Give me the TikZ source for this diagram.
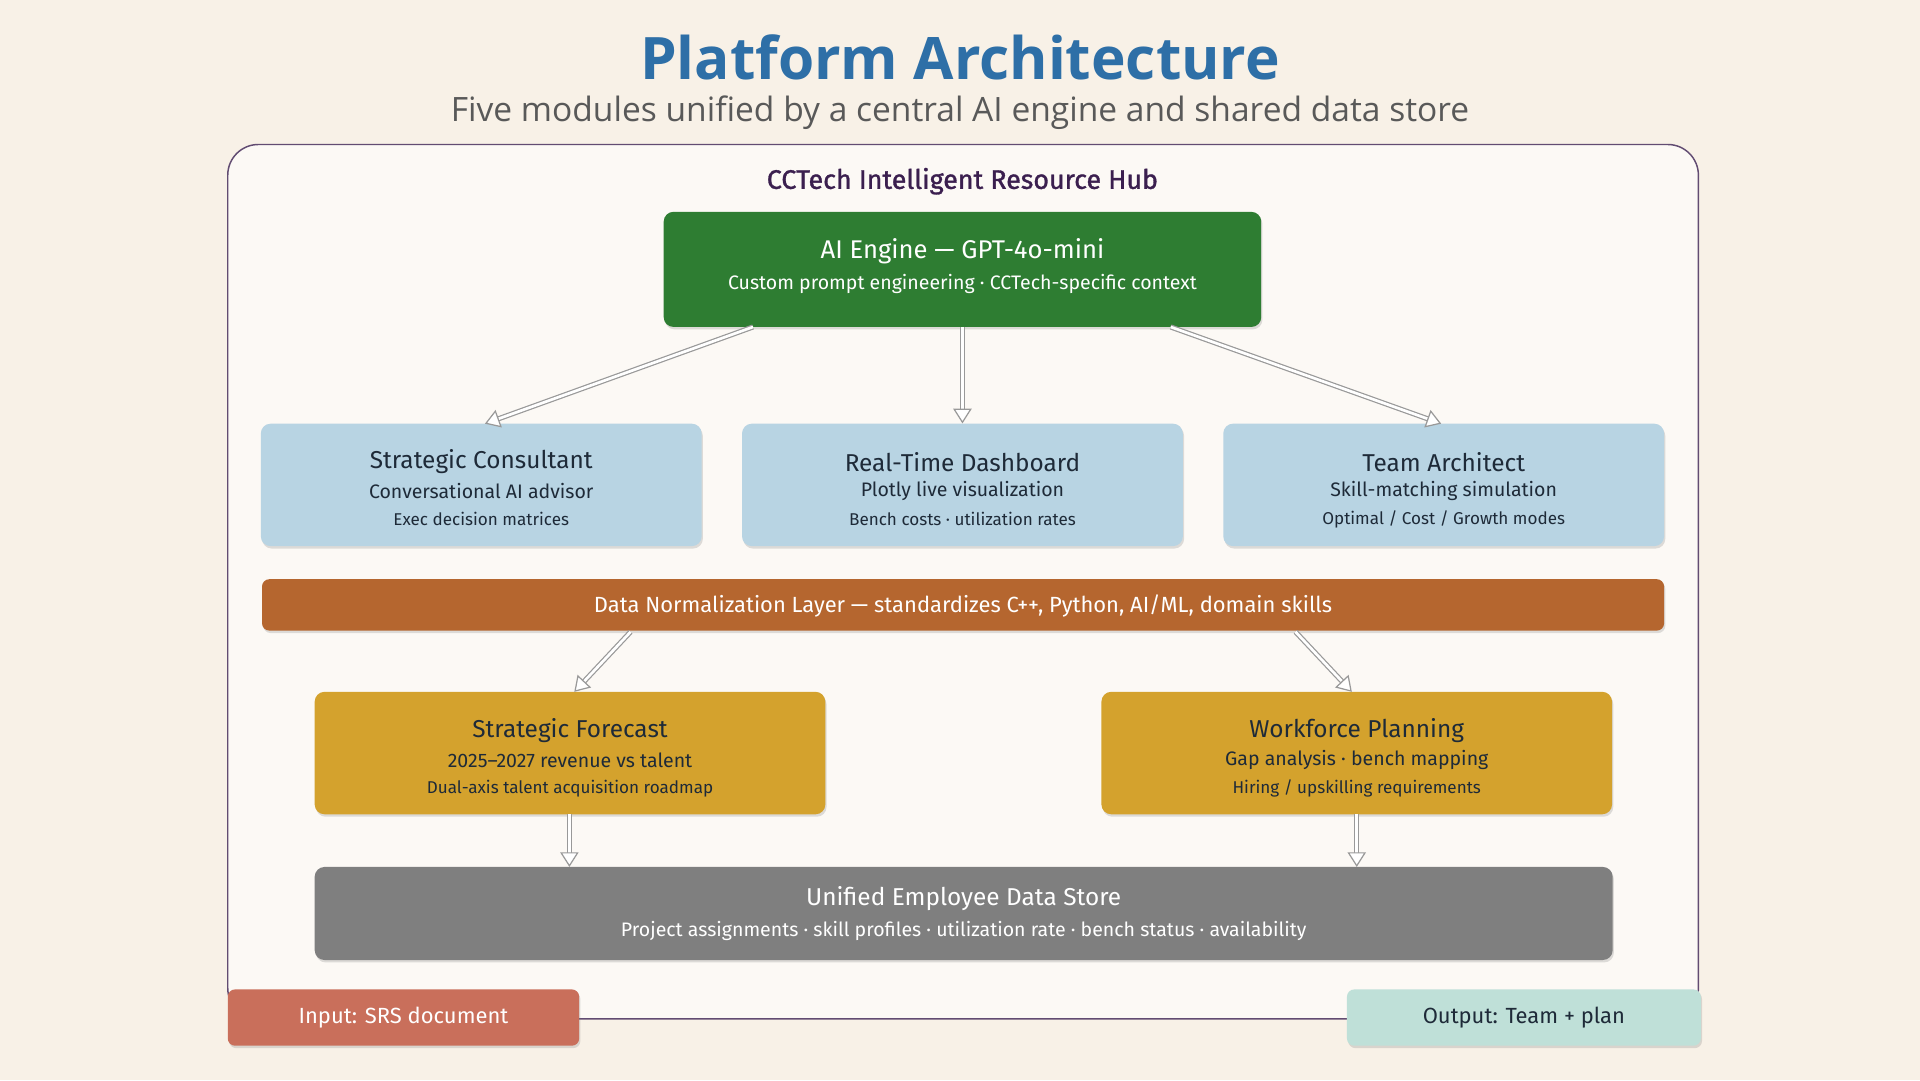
\documentclass[tikz,border=0pt]{standalone}
\usepackage{fontspec}
\setmainfont{Fira Sans}
\newfontfamily\titlefont{Open Sans}
\usetikzlibrary{arrows.meta,shadows}
\definecolor{bg}{HTML}{F8F1E7}
\definecolor{ttl}{HTML}{2E6FA7}
\definecolor{hub}{HTML}{3B1F4F}
\definecolor{grn}{HTML}{2E7D32}
\definecolor{blu}{HTML}{B8D4E3}
\definecolor{org}{HTML}{B5662F}
\definecolor{yel}{HTML}{D4A22D}
\definecolor{gry}{HTML}{7F7F7F}
\definecolor{inp}{HTML}{C96F5B}
\definecolor{outp}{HTML}{BFE0D8}
\definecolor{dk}{HTML}{1E2A38}
\begin{document}
\begin{tikzpicture}[x=1bp,y=-1bp,
  box/.style={rounded corners=8bp,drop shadow={shadow xshift=1bp,shadow yshift=-2bp,opacity=0.25}},
  arr/.style={draw=gray!80,double=white,double distance=2.2bp,line width=1bp,
     -{Triangle[open,length=12bp,width=15bp,fill=white]}},
  t1/.style={font=\fontsize{20}{24}\selectfont},
  t2/.style={font=\fontsize{16}{19}\selectfont},
  t3/.style={font=\fontsize{14}{17}\selectfont}]
\fill[bg] (0,0) rectangle (1568,882);
\useasboundingbox (0,0) rectangle (1568,882);
\node[font=\titlefont\bfseries\fontsize{48}{56}\selectfont,text=ttl] (title) at (784,47) {Platform Architecture};
\node[font=\titlefont\fontsize{27.5}{32}\selectfont,text=black!65] (sub) at (784,92) {Five modules unified by a central AI engine and shared data store};
\draw[hub!80,line width=1.2bp,rounded corners=25bp,fill=white!60!bg] (186,832) -- (186,118) -- (1387,118) -- (1387,832) -- cycle;
\node[font=\fontsize{22}{26}\selectfont\mdseries,text=hub] (hubl) at (786,148) {\addfontfeature{FakeBold=1.2}CCTech Intelligent Resource Hub};
% AI engine
\node[box,fill=grn,minimum width=488bp,minimum height=94bp] (ai) at (786,220) {};
\node[text=white,font=\fontsize{21}{24}\selectfont] (ait) at (786,205) {AI Engine — GPT-4o-mini};
\node[t2,text=white] (ais) at (786,232) {Custom prompt engineering · CCTech-specific context};
% blue boxes
\foreach \n/\x/\a/\b/\c in {sc/393/{Strategic Consultant}/{Conversational AI advisor}/{Exec decision matrices},
  rd/786/{Real-Time Dashboard}/{Plotly live visualization}/{Bench costs · utilization rates},
  ta/1179/{Team Architect}/{Skill-matching simulation}/{Optimal {/} Cost {/} Growth modes}}{
  \node[box,fill=blu,minimum width=360bp,minimum height=100bp] (\n) at (\x,396) {};
  \node[t1,text=dk] (\n a) at (\x,377) {\a};
  \node[t2,text=dk] (\n b) at (\x,401) {\b};
  \node[t3,text=dk] (\n c) at (\x,424) {\c};
}
% orange bar
\node[box,rounded corners=6bp,fill=org,minimum width=1145bp,minimum height=42bp] (dn) at (786.5,494) {};
\node[font=\fontsize{18}{21}\selectfont,text=white] (dnt) at (786.5,495) {Data Normalization Layer — standardizes C++, Python, AI/ML, domain skills};
% yellow boxes
\foreach \n/\x/\a/\b/\c in {sf/465.5/{Strategic Forecast}/{2025–2027 revenue vs talent}/{Dual-axis talent acquisition roadmap},
  wp/1108/{Workforce Planning}/{Gap analysis · bench mapping}/{Hiring {/} upskilling requirements}}{
  \node[box,fill=yel,minimum width=417bp,minimum height=100bp] (\n) at (\x,615) {};
  \node[t1,text=dk] (\n a) at (\x,597) {\a};
  \node[t2,text=dk] (\n b) at (\x,621) {\b};
  \node[t3,text=dk] (\n c) at (\x,644) {\c};
}
% gray store
\node[box,fill=gry,minimum width=1060bp,minimum height=76bp] (ds) at (787,746) {};
\node[t1,text=white] (dsa) at (787,734) {Unified Employee Data Store};
\node[t2,text=white] (dsb) at (787,760) {Project assignments · skill profiles · utilization rate · bench status · availability};
% input/output
\node[box,rounded corners=6bp,fill=inp,minimum width=287bp,minimum height=46bp,font=\fontsize{18}{21}\selectfont,text=white] (in) at (329.5,831) {Input: SRS document};
\node[box,rounded corners=6bp,fill=outp,minimum width=289bp,minimum height=46bp,font=\fontsize{18}{21}\selectfont,text=dk] (out) at (1244.5,831) {Output: Team + plan};
% arrows
\coordinate (a1) at (615,267); \coordinate (a2) at (786,267); \coordinate (a3) at (956,267);
\coordinate (e1) at (396,346); \coordinate (e3) at (1177,346);
\draw[arr] (a1) -- (e1);
\draw[arr] (a2) -- (rd.north);
\draw[arr] (a3) -- (e3);
\coordinate (o1) at (515,516); \coordinate (o2) at (1058,516);
\coordinate (y1) at (469,565); \coordinate (y2) at (1104,565);
\draw[arr] (o1) -- (y1);
\draw[arr] (o2) -- (y2);
\coordinate (s1) at (465,665); \coordinate (s2) at (1108,665);
\coordinate (g1) at (465,708); \coordinate (g2) at (1108,708);
\draw[arr] (s1) -- (g1);
\draw[arr] (s2) -- (g2);
\end{tikzpicture}
\end{document}
